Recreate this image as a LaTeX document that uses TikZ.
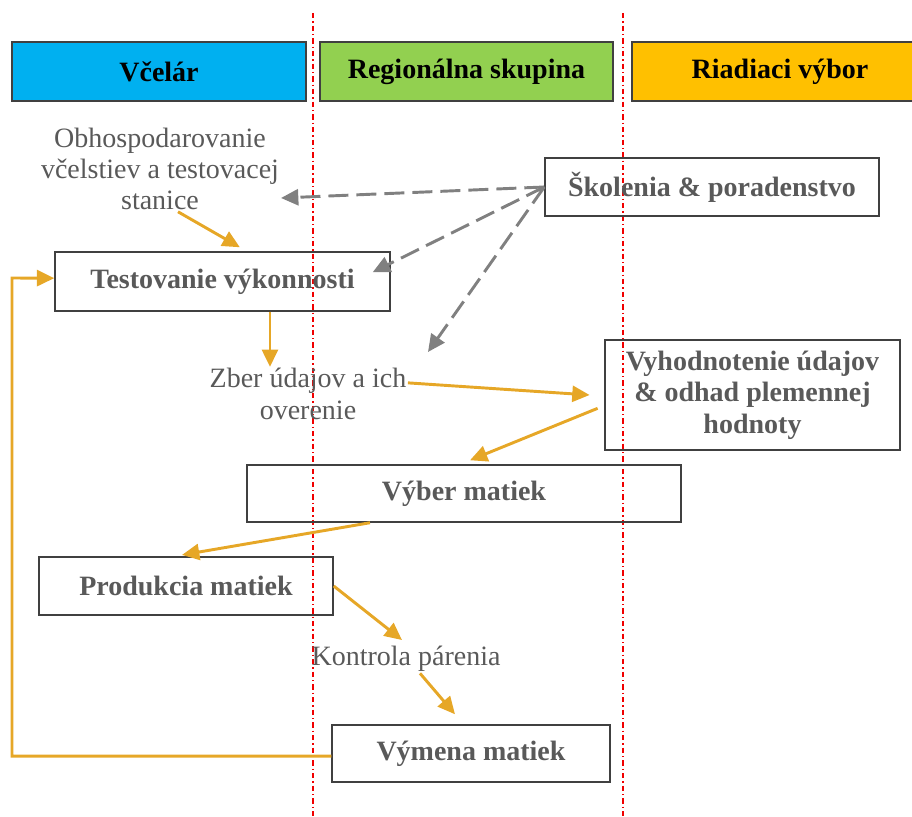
\documentclass[tikz,border=0pt]{standalone}
\usepackage{fontspec}
\setmainfont{Liberation Serif}
\usetikzlibrary{arrows.meta}

\definecolor{beecolor}{RGB}{0,176,240}
\definecolor{groupcolor}{RGB}{146,208,80}
\definecolor{boardcolor}{RGB}{255,192,0}
\definecolor{labelgray}{RGB}{89,89,89}
\definecolor{flowcolor}{RGB}{230,167,39}
\definecolor{advicecolor}{RGB}{128,128,128}
\definecolor{edgecolor}{RGB}{64,64,64}
\definecolor{lanered}{RGB}{240,0,0}

\tikzset{
  lane/.style={color=lanered, line width=1pt, dash pattern=on 4pt off 2.25pt on 1pt off 2.25pt},
  header/.style={draw=edgecolor, line width=1pt, inner sep=0pt, font=\fontsize{21}{24}\selectfont\bfseries, text=black},
  stepbox/.style={draw=edgecolor, line width=1.1pt, inner sep=0pt, align=center, font=\fontsize{21}{23.5}\selectfont\bfseries, text=labelgray},
  note/.style={inner sep=1pt, align=center, font=\fontsize{21}{23.5}\selectfont, text=labelgray},
  flow/.style={draw=flowcolor, line width=2.2pt, -{Triangle[length=13pt,width=12pt]}},
  advice/.style={draw=advicecolor, line width=2.2pt, dash pattern=on 15pt off 6pt, -{Triangle[length=13pt,width=12pt]}},
}

\begin{document}
\begin{tikzpicture}[x=0.75pt,y=0.75pt,yscale=-1,xscale=1]
\path[use as bounding box, clip] (0,0) rectangle (912,816);

%Straight Lines [lane borders]
\draw[lane] (313,13) -- (313,816);
\draw[lane] (623,13) -- (623,816);

% Header Nodes
\node[header, fill=beecolor, minimum width=220.5pt, minimum height=44.25pt] (vcelar) at (159,71.5) {Včelár};
\node[header, fill=groupcolor, minimum width=219.75pt, minimum height=44.25pt] (skupina) at (466.5,71.5) {Regionálna skupina};
\node[header, fill=boardcolor, minimum width=222pt, minimum height=44.25pt] (vybor) at (780,71.5) {Riadiaci výbor};

% Box Nodes
\node[stepbox, minimum width=250.5pt, minimum height=43.5pt] (skolenia) at (712,187) {Školenia \& poradenstvo};
\node[stepbox, minimum width=251.25pt, minimum height=44.25pt] (testovanie) at (222.5,281.5) {Testovanie výkonnosti};
\node[stepbox, minimum width=221.25pt, minimum height=82.5pt] (vyhodnotenie) at (752.5,395) {Vyhodnotenie údajov\\\& odhad plemennej\\hodnoty};
\node[stepbox, minimum width=325.5pt, minimum height=42.75pt] (vyber) at (464,493.5) {Výber matiek};
\node[stepbox, minimum width=220.5pt, minimum height=43.5pt] (produkcia) at (186,586) {Produkcia matiek};
\node[stepbox, minimum width=208.5pt, minimum height=42.75pt] (vymena) at (471,753.5) {Výmena matiek};

% Text Nodes
\node[note] (obhosp) at (160,169) {Obhospodarovanie\\včelstiev a testovacej\\stanice};
\node[note] (zber) at (308,394) {Zber údajov a ich\\overenie};
\node[note] (kontrola) at (406,659) {Kontrola párenia};

% free ends
\coordinate (obhospR) at (281,198);
\coordinate (zberR) at (428,352);
\coordinate (back) at (12,278);

%Straight Lines [dashed, from Skolenia]
\draw[advice] (skolenia.west) -- (obhospR);
\draw[advice] (skolenia.west) -- ([xshift=-13.5pt,yshift=-7pt]testovanie.east);
\draw[advice] (skolenia.west) -- (zberR);

%Straight Lines [flow]
\draw[flow] ([xshift=13.5pt]obhosp.south) -- ([xshift=13pt,yshift=-3pt]testovanie.north);
\draw[flow] ([xshift=35.6pt]testovanie.south) -- ([xshift=35.6pt]testovanie.south |- zber.north);
\draw[flow] ([yshift=12pt]zber.north east) -- ([xshift=-11pt]vyhodnotenie.west);
\draw[flow] ([xshift=-5pt,yshift=10pt]vyhodnotenie.west) -- ([xshift=4.5pt,yshift=-3pt]vyber.north);
\draw[flow] ([xshift=-70.5pt]vyber.south) -- ([xshift=-3pt,yshift=-1pt]produkcia.north);
\draw[flow] (produkcia.east) -- ([xshift=-3pt,yshift=-3.5pt]kontrola.north);
\draw[flow] ([xshift=10.5pt]kontrola.south) -- ([xshift=-12pt,yshift=-7.5pt]vymena.north);
\draw[flow] ([yshift=2pt]vymena.west) -| (back) -- ([yshift=-2.5pt]testovanie.west);

\end{tikzpicture}
\end{document}
